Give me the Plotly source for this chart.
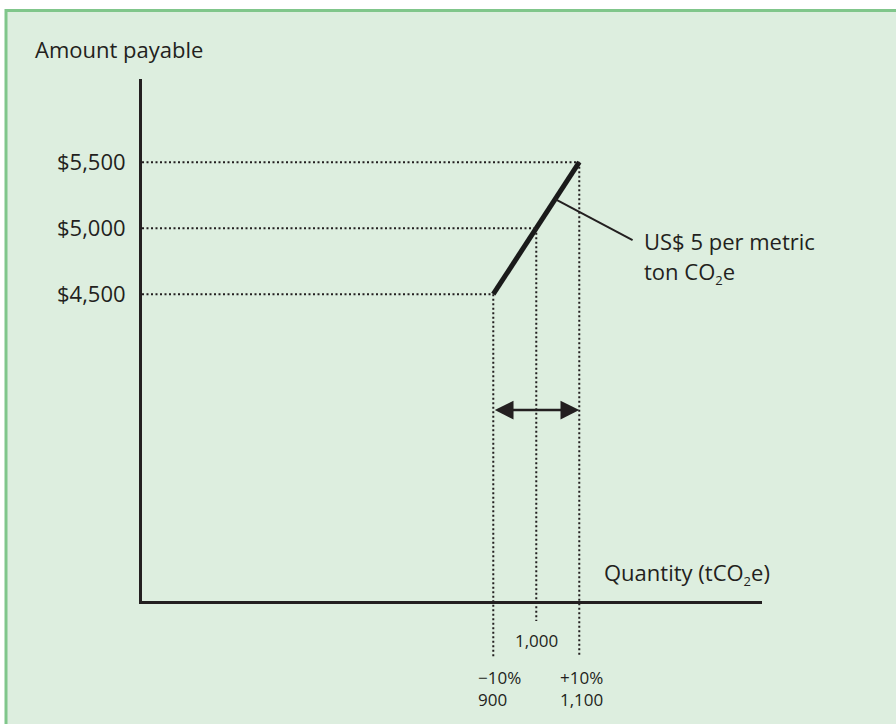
import plotly.graph_objects as go

# ---------------- data ----------------
quantity = [900, 1000, 1100]                 # tCO2e
amount = [4500, 5000, 5500]                  # US$
y_tick_labels = ["$4,500", "$5,000", "$5,500"]
x_labels = ["\u221210%<br>900", "1,000", "+10%<br>1,100"]
SUB2 = "<sub><span style='font-size:13px'>2</span></sub>"
price_label = ["US$ 5 per metric", "ton CO" + SUB2 + "e"]
y_title = "Amount payable"
x_title = "Quantity (tCO" + SUB2 + "e)"

# ---------------- layout constants ----------------
W, H = 896, 724
M_L, M_R, M_T, M_B = 142, 134, 79, 123
X_RANGE = [83, 1525]
Y_RANGE = [2174, 6131]
PW, PH = W - M_L - M_R, H - M_T - M_B

INK = "#231F20"
BG = "#DDEEDF"
BORDER = "#80C68B"
FONT = "Open Sans"
BIG = 22
SMALL = 17


def px_x(px):
    return (px - M_L) / PW


def px_y(py):
    return (H - M_B - py) / PH


def data_to_paper_y(v):
    return (v - Y_RANGE[0]) / (Y_RANGE[1] - Y_RANGE[0])


fig = go.Figure()

# main segment
fig.add_trace(go.Scatter(x=[quantity[0], quantity[-1]], y=[amount[0], amount[-1]],
                         mode="lines", line=dict(color="#1A1A1A", width=5),
                         hoverinfo="skip", showlegend=False))

shapes = []
# background panel with green border
shapes.append(dict(type="rect", xref="paper", yref="paper",
                   x0=px_x(6), x1=px_x(W + 20), y0=px_y(H + 20), y1=px_y(10.5),
                   line=dict(color=BORDER, width=3), fillcolor=BG, layer="below"))

DOT = "2px,2.5px"
drop_px = [657, 621, 657]
for q, a, d in zip(quantity, amount, drop_px):
    # horizontal guide from y axis
    shapes.append(dict(type="line", xref="x", yref="y", x0=X_RANGE[0], x1=q, y0=a, y1=a,
                       line=dict(color=INK, width=2, dash=DOT)))
    # vertical guide down below the x axis
    shapes.append(dict(type="line", xref="x", yref="paper", x0=q, x1=q,
                       y0=data_to_paper_y(a), y1=px_y(d),
                       line=dict(color=INK, width=2, dash=DOT)))

# callout line from segment to label
t = 0.72
cx = quantity[0] + t * (quantity[-1] - quantity[0])
cy = amount[0] + t * (amount[-1] - amount[0])
callout_end = (1224, 4909)
shapes.append(dict(type="line", xref="x", yref="y", x0=cx, y0=cy,
                   x1=callout_end[0], y1=callout_end[1],
                   line=dict(color=INK, width=2)))

annotations = []
# double-headed range arrow
arrow_y = 3621
annotations.append(dict(x=quantity[-1], y=arrow_y, ax=quantity[0], ay=arrow_y,
                        xref="x", yref="y", axref="x", ayref="y", text="",
                        showarrow=True, arrowside="end+start", arrowhead=2,
                        arrowsize=1.5, arrowwidth=2.5, arrowcolor=INK,
                        standoff=0, startstandoff=0))

# price label
annotations.append(dict(x=1247, y=4904, xref="x", yref="y", text=price_label[0],
                        showarrow=False, xanchor="left", yanchor="middle",
                        font=dict(family=FONT, size=BIG, color=INK)))
annotations.append(dict(x=1247, y=4667, xref="x", yref="y", text=price_label[1],
                        showarrow=False, xanchor="left", yanchor="middle",
                        font=dict(family=FONT, size=BIG, color=INK)))

# axis titles
annotations.append(dict(x=px_x(33), y=px_y(49), xref="paper", yref="paper", text=y_title,
                        showarrow=False, xanchor="left", yanchor="middle",
                        font=dict(family=FONT, size=BIG, color=INK)))
annotations.append(dict(x=px_x(602), y=px_y(573), xref="paper", yref="paper", text=x_title,
                        showarrow=False, xanchor="left", yanchor="middle",
                        font=dict(family=FONT, size=BIG, color=INK)))

# x labels below axis
annotations.append(dict(x=quantity[1], y=px_y(640), xref="x", yref="paper", text=x_labels[1],
                        showarrow=False, xanchor="center", yanchor="middle",
                        font=dict(family=FONT, size=SMALL, color=INK)))
for q, lab, sh in [(quantity[0], x_labels[0], -17), (quantity[2], x_labels[2], -21)]:
    annotations.append(dict(x=q, y=px_y(688), xref="x", yref="paper", text=lab,
                            showarrow=False, xanchor="left", yanchor="middle", align="left",
                            xshift=sh, font=dict(family=FONT, size=SMALL, color=INK)))

fig.update_layout(
    width=W, height=H, autosize=False,
    margin=dict(l=M_L, r=M_R, t=M_T, b=M_B, pad=0),
    paper_bgcolor="white", plot_bgcolor="rgba(0,0,0,0)",
    shapes=shapes, annotations=annotations, showlegend=False,
    xaxis=dict(range=X_RANGE, showgrid=False, zeroline=False, showticklabels=False,
               ticks="", showline=True, linecolor=INK, linewidth=3, fixedrange=True),
    yaxis=dict(range=Y_RANGE, showgrid=False, zeroline=False, tickvals=amount,
               ticktext=y_tick_labels, ticks="", ticklabelstandoff=9,
               tickfont=dict(family=FONT, size=BIG, color=INK),
               showline=True, linecolor=INK, linewidth=3, fixedrange=True),
)

fig.write_html("out.html", config={"displayModeBar": False},
               post_script="document.body.style.margin='0';document.body.style.overflow='hidden';")
